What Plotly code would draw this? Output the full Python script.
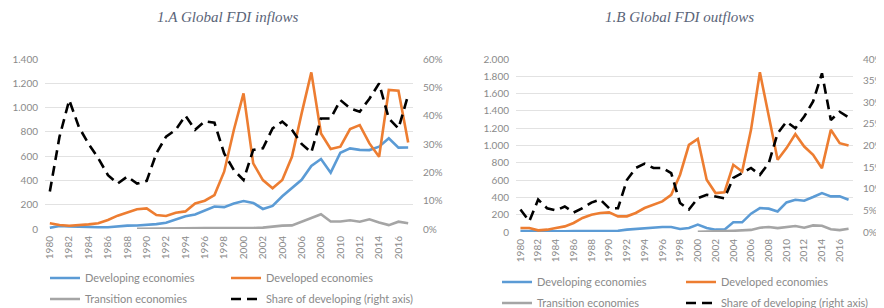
import plotly.graph_objects as go

years = list(range(1980, 2018))
tick_years = list(range(1980, 2017, 2))

# 1.A Global FDI inflows (billions of dollars)
in_developing = [10, 25, 22, 18, 17, 14, 14, 22, 28, 29, 33, 40, 52, 80, 105, 120, 150, 185, 180, 210,
                 230, 215, 165, 190, 270, 335, 405, 519, 576, 464, 628, 664, 652, 650, 678, 747, 670, 671]
in_developed = [47, 33, 27, 30, 38, 47, 74, 110, 134, 162, 170, 115, 107, 134, 145, 211, 233, 280, 472, 815,
                1117, 540, 403, 335, 403, 595, 952, 1290, 787, 659, 678, 823, 856, 705, 595, 1145, 1139, 712]
in_transition = [None] * 9 + [1, 1, 2, 3, 5, 5, 6, 7, 8, 7, 7,
                              7, 8, 11, 22, 28, 30, 58, 90, 121, 62, 62, 72, 60, 80, 54, 32, 60, 47]
in_share = [0.132, 0.326, 0.455, 0.36, 0.30, 0.25, 0.19, 0.16, 0.185, 0.16, 0.17, 0.267, 0.326, 0.35, 0.40,
            0.35, 0.38, 0.375, 0.267, 0.208, 0.173, 0.279, 0.285, 0.355, 0.379, 0.35, 0.30, 0.27, 0.39, 0.39,
            0.455, 0.426, 0.414, 0.46, 0.514, 0.39, 0.355, 0.473]

# 1.B Global FDI outflows
out_developing = [12, 10, 8, 8, 8, 8, 10, 12, 12, 14, 15, 14, 27, 35, 46, 54, 58, 58, 35, 46,
                  85, 46, 27, 27, 112, 112, 212, 277, 270, 238, 342, 373, 362, 404, 450, 412, 412, 373]
out_developed = [46, 46, 19, 27, 46, 65, 104, 162, 200, 220, 227, 181, 181, 220, 277, 315, 354, 430, 662, 1008,
                 1077, 604, 450, 458, 777, 700, 1181, 1846, 1335, 835, 970, 1131, 988, 892, 738, 1181, 1027, 1000]
out_transition = [None] * 20 + [3, 3, 5, 10, 14, 18, 24, 50, 58, 45, 58, 70, 50, 76, 72, 32, 22, 38]
out_share = [0.052, 0.025, 0.075, 0.055, 0.05, 0.059, 0.045, 0.055, 0.068, 0.075, 0.055, 0.055, 0.12, 0.148,
             0.158, 0.148, 0.148, 0.136, 0.067, 0.052, 0.078, 0.086, 0.082, 0.078, 0.125, 0.136, 0.148, 0.132,
             0.159, 0.228, 0.255, 0.24, 0.267, 0.302, 0.367, 0.259, 0.278, 0.265]

series_names = ["Developing economies", "Developed economies", "Transition economies",
                "Share of developing (right axis)"]
titles = ["1.A Global FDI inflows", "1.B Global FDI outflows"]

OFF = 8  # default page body margin
W, H = 884 - OFF, 308 - OFF
BLUE, ORANGE, GRAY, BLACK = "#5B9BD5", "#ED7D31", "#A5A5A5", "#000000"
TXT = "#8a8a8a"
FONT = "Lato"


def fx(px):
    return (px - OFF) / W


def fy(py):
    return 1 - (py - OFF) / H


fig = go.Figure()


def add_panel(p, dev, dvd, tra, share, legs):
    xa = "x" if p == 0 else "x2"
    yl = "y" if p == 0 else "y3"
    yr = "y2" if p == 0 else "y4"
    data = [(dev, BLUE, "solid", yl), (dvd, ORANGE, "solid", yl), (tra, GRAY, "solid", yl),
            (share, BLACK, "10px,6px", yr)]
    for i, (vals, col, dash, ya) in enumerate(data):
        fig.add_trace(go.Scatter(x=years, y=vals, name=series_names[i], mode="lines",
                                 line=dict(color=col, width=2.6, dash=dash),
                                 xaxis=xa, yaxis=ya, legend=legs[i], connectgaps=False,
                                 hoverinfo="skip"))


add_panel(0, in_developing, in_developed, in_transition, in_share,
          ["legend", "legend2", "legend3", "legend4"])
add_panel(1, out_developing, out_developed, out_transition, out_share,
          ["legend5", "legend6", "legend7", "legend8"])

tick_font = dict(family=FONT, size=10, color=TXT)
grid = "#e2e2e2"


def xaxis(dom, anchor):
    return dict(domain=dom, anchor=anchor, range=[1979.5, 2017.5], tickvals=tick_years,
                ticktext=[str(y) for y in tick_years], tickangle=-90, tickfont=tick_font,
                showgrid=False, zeroline=False, showline=False, ticks="", ticklabelstandoff=4,
                fixedrange=True)


def yleft(dom, anchor, rng, dt):
    return dict(domain=dom, anchor=anchor, range=rng, dtick=dt, tickformat=",d",
                tickfont=tick_font, showgrid=True, gridcolor=grid, gridwidth=1,
                zeroline=False, showline=False, ticks="", ticklabelstandoff=6, fixedrange=True)


def yright(over, anchor, rng, dt):
    return dict(overlaying=over, anchor=anchor, side="right", range=rng, dtick=dt,
                tickformat=".0%", tickfont=tick_font, showgrid=False, zeroline=False,
                showline=False, ticks="", ticklabelstandoff=9, fixedrange=True)


layout = dict(
    width=W, height=H, template="none", separators=",.",
    margin=dict(l=0, r=0, t=0, b=0, autoexpand=False),
    paper_bgcolor="white", plot_bgcolor="white", showlegend=True,
    xaxis=xaxis([fx(45), fx(413)], "y"),
    yaxis=yleft([fy(229), fy(59)], "x", [0, 1400], 200),
    yaxis2=yright("y", "x", [0, 0.6], 0.1),
    xaxis2=xaxis([fx(516), fx(853)], "y3"),
    yaxis3=yleft([fy(232), fy(59)], "x2", [0, 2000], 200),
    yaxis4=yright("y3", "x2", [0, 0.4], 0.05),
)

leg_pos = [(50, 278), (231, 278), (50, 299), (231, 299),
           (502, 282), (686, 282), (502, 303), (686, 303)]
leg_keys = ["legend", "legend2", "legend3", "legend4", "legend5", "legend6", "legend7", "legend8"]
for k, (px, py) in zip(leg_keys, leg_pos):
    layout[k] = dict(xref="container", yref="container", x=fx(px - 5), y=fy(py),
                     xanchor="left", yanchor="middle", bgcolor="rgba(0,0,0,0)",
                     borderwidth=0, font=dict(family=FONT, size=11, color=TXT),
                     itemwidth=30, tracegroupgap=0, itemclick=False, itemdoubleclick=False)

fig.update_layout(**layout)

title_font = dict(family="Liberation Serif", size=15, color="#5a6478", style="italic")
for cx, t in zip([228, 679], titles):
    fig.add_annotation(text=t, xref="paper", yref="paper", x=fx(cx), y=fy(17),
                       xanchor="center", yanchor="middle", showarrow=False, font=title_font)

fig.write_html("out.html")
